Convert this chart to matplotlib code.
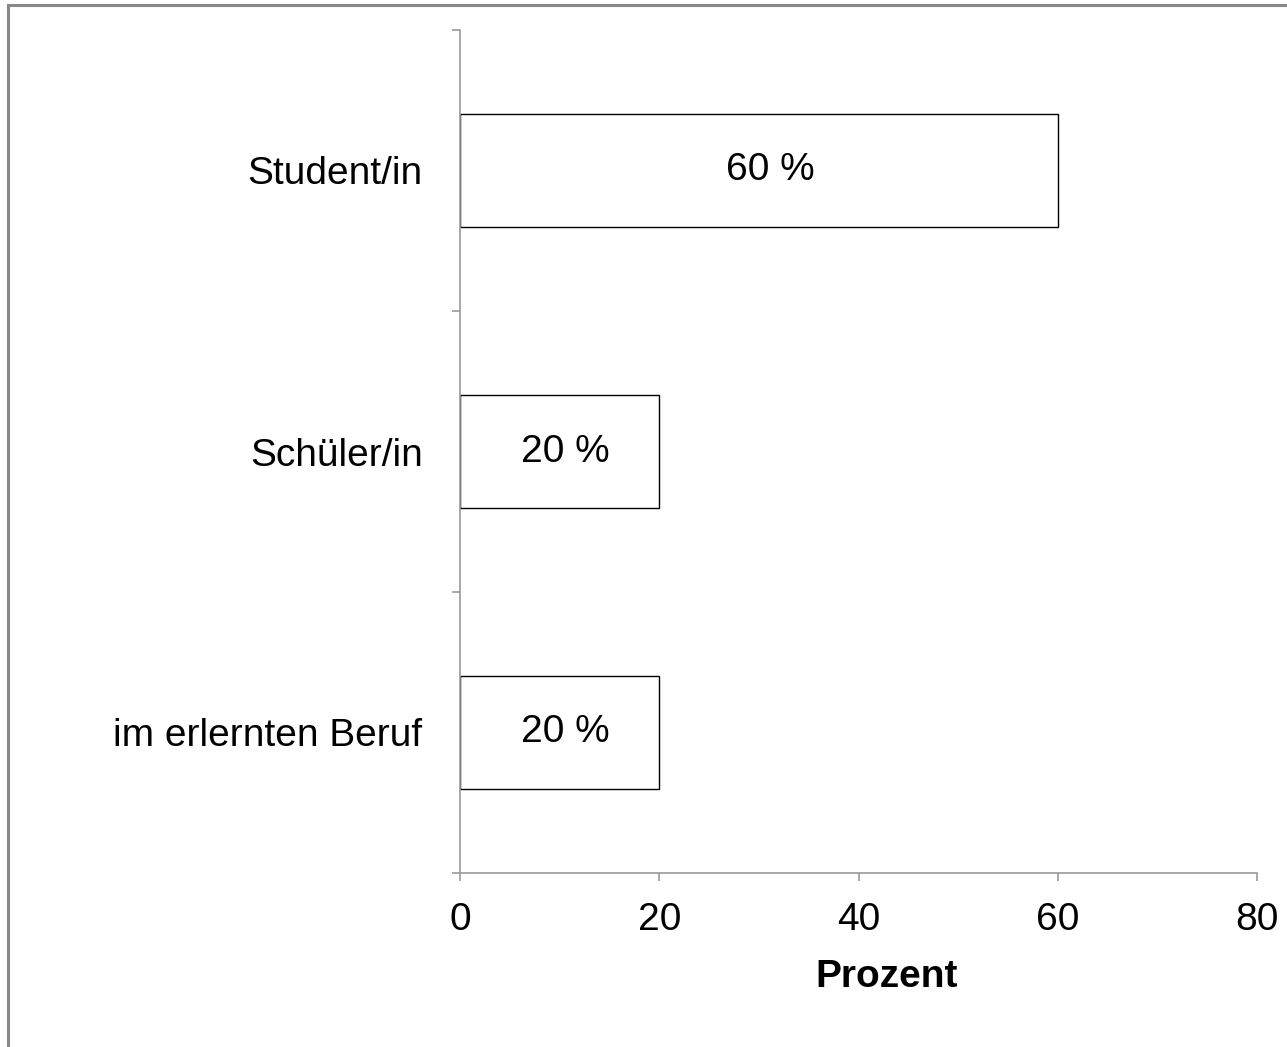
import matplotlib
matplotlib.use("Agg")
import matplotlib.pyplot as plt
from matplotlib.lines import Line2D

plt.rcParams['font.family'] = ['Liberation Sans', 'DejaVu Sans']

categories = ["im erlernten Beruf", "Schüler/in", "Student/in"]
values = [20, 20, 60]
value_labels = ["20 %", "20 %", "60 %"]
xticks = [0, 20, 40, 60, 80]

W, H = 1287, 1047
FS = 28
fig = plt.figure(figsize=(W / 100, H / 100), dpi=100)
fig.patch.set_facecolor("white")

# outer gray frame (top and left)
fig.add_artist(Line2D([8 / W, 8 / W], [0, 1 - 5 / H], color="#888888", lw=2.2,
                      transform=fig.transFigure))
fig.add_artist(Line2D([8 / W, 1], [1 - 5 / H, 1 - 5 / H], color="#888888", lw=2.2,
                      transform=fig.transFigure))

left, right, top, bottom = 460, 1257, 30, 873
ax = fig.add_axes([left / W, 1 - bottom / H, (right - left) / W, (bottom - top) / H])

ypos = [0.5, 1.5, 2.5]
ax.barh(ypos, values, height=0.4, color="white", edgecolor="black", linewidth=1.0)
for y, v, lab in zip(ypos, values, value_labels):
    ax.annotate(lab, (v / 2, y), xytext=(4 if v < 40 else 8, 0), textcoords="offset points",
                ha="center", va="center", fontsize=FS, color="black")

ax.set_xlim(0, 80)
ax.set_ylim(0, 3)
ax.set_xticks(xticks)
ax.set_xticklabels([str(t) for t in xticks], fontsize=FS)
ax.set_yticks(ypos)
ax.set_yticklabels(categories, fontsize=FS)
ax.set_yticks([0, 1, 2, 3], minor=True)
ax.tick_params(axis="y", which="major", length=0, pad=27)
ax.tick_params(axis="y", which="minor", length=6, color="#999999", width=1.2)
ax.tick_params(axis="x", which="major", length=6, color="#999999", width=1.2, pad=15)

for s in ["top", "right"]:
    ax.spines[s].set_visible(False)
for s in ["left", "bottom"]:
    ax.spines[s].set_color("#999999")
    ax.spines[s].set_linewidth(1.2)

fig.text(887 / W, 1 - 977 / H, "Prozent", ha="center", va="center",
         fontsize=FS, fontweight="bold")

fig.savefig("out.png", dpi=100, facecolor="white")
